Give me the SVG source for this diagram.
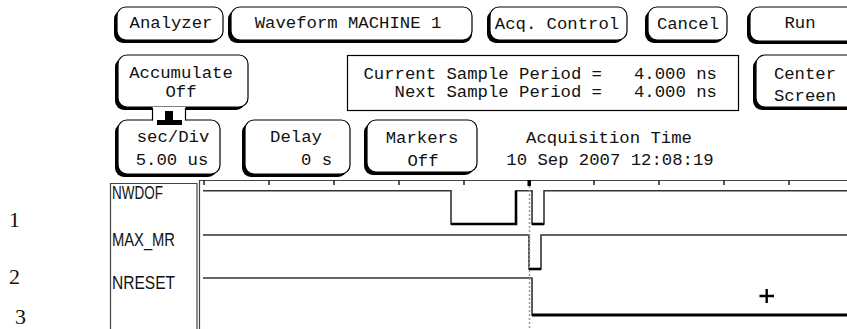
<svg xmlns="http://www.w3.org/2000/svg" width="847" height="329" viewBox="0 0 847 329">
  <style>
    .sh { fill: #000; }
    .face { fill: #fff; stroke: #000; stroke-width: 1.2; }
    .t { font-family: "Liberation Mono", "DejaVu Sans Mono", monospace; font-size: 17.3px; fill: #111; }
    .m { text-anchor: middle; }
    .e { text-anchor: end; }
    .lbl { font-family: "Liberation Sans", Arial, sans-serif; font-size: 18px; fill: #111; }
    .num { font-family: "Liberation Serif", "Times New Roman", serif; font-size: 22px; fill: #111; }
    .frame { fill: none; stroke: #444; stroke-width: 1.2; }
    .tick { stroke: #222; stroke-width: 1.5; }
    .hi { fill: none; stroke: #333; stroke-width: 1.6; }
    .lo { fill: none; stroke: #000; stroke-width: 2.6; }
    .cursor { stroke: #999; stroke-width: 1.5; stroke-dasharray: 2 2; }
  </style>
  <rect width="847" height="329" fill="#fff"/>

  <!-- top menu row -->
  <g id="btn-analyzer">
    <rect class="sh" x="114" y="10" width="106" height="33" rx="9"/>
    <rect class="face" x="117" y="7" width="106" height="33" rx="9"/>
    <text class="t m" x="171" y="28">Analyzer</text>
  </g>
  <g id="btn-waveform">
    <rect class="sh" x="228" y="10" width="244" height="33" rx="9"/>
    <rect class="face" x="231" y="7" width="241" height="33" rx="9"/>
    <text class="t m" x="348" y="28">Waveform MACHINE 1</text>
  </g>
  <g id="btn-acq">
    <rect class="sh" x="487" y="10" width="137" height="33" rx="9"/>
    <rect class="face" x="490" y="7" width="137" height="33" rx="9"/>
    <text class="t m" x="557" y="29">Acq. Control</text>
  </g>
  <g id="btn-cancel">
    <rect class="sh" x="645" y="10" width="79" height="33" rx="9"/>
    <rect class="face" x="648" y="7" width="79" height="33" rx="9"/>
    <text class="t m" x="688" y="29">Cancel</text>
  </g>
  <g id="btn-run">
    <rect class="sh" x="747" y="10" width="120" height="34" rx="9"/>
    <rect class="face" x="750" y="7" width="120" height="34" rx="9"/>
    <text class="t m" x="800" y="28">Run</text>
  </g>

  <!-- second row -->
  <g id="btn-accumulate">
    <rect class="sh" x="115" y="58" width="130" height="52" rx="9"/>
    <rect class="face" x="118" y="55" width="130" height="52" rx="9"/>
    <text class="t m" x="181" y="78">Accumulate</text>
    <text class="t m" x="181" y="97">Off</text>
  </g>
  <g id="sample-period">
    <rect class="face" x="347.5" y="55.5" width="391" height="55"/>
    <text class="t e" x="602" y="79">Current Sample Period =</text>
    <text class="t" x="634" y="79">4.000 ns</text>
    <text class="t e" x="602" y="97">Next Sample Period =</text>
    <text class="t" x="634" y="97">4.000 ns</text>
  </g>
  <g id="btn-center">
    <rect class="sh" x="753" y="58" width="110" height="52" rx="9"/>
    <rect class="face" x="756" y="55" width="110" height="52" rx="9"/>
    <text class="t m" x="805" y="79">Center</text>
    <text class="t m" x="805" y="101">Screen</text>
  </g>

  <!-- third row -->
  <g id="btn-secdiv">
    <rect class="sh" x="115" y="123" width="102" height="54" rx="9"/>
    <rect class="face" x="118" y="120" width="102" height="54" rx="9"/>
    <text class="t m" x="173" y="142">sec/Div</text>
    <text class="t m" x="172" y="165">5.00 us</text>
  </g>
  <g id="accumulate-link">
    <rect x="152.5" y="107" width="33" height="14" fill="#fff"/>
    <line x1="152.5" y1="108" x2="152.5" y2="120.5" stroke="#000" stroke-width="1.2"/>
    <line x1="185.5" y1="108" x2="185.5" y2="120.5" stroke="#000" stroke-width="1.2"/>
    <rect x="165" y="111" width="8" height="10" fill="#000"/>
    <rect x="157" y="120" width="25" height="5" fill="#000"/>
  </g>
  <g id="btn-delay">
    <rect class="sh" x="242" y="123" width="105" height="54" rx="9"/>
    <rect class="face" x="245" y="120" width="105" height="54" rx="9"/>
    <text class="t m" x="296" y="142">Delay</text>
    <text class="t" x="301" y="165">0  s</text>
  </g>
  <g id="btn-markers">
    <rect class="sh" x="364" y="123" width="110" height="52" rx="9"/>
    <rect class="face" x="367" y="120" width="110" height="52" rx="9"/>
    <text class="t m" x="422" y="143">Markers</text>
    <text class="t m" x="423" y="166">Off</text>
  </g>
  <g id="acq-time">
    <text class="t m" x="609" y="143">Acquisition Time</text>
    <text class="t m" x="610" y="165">10 Sep 2007 12:08:19</text>
  </g>

  <!-- channel numbers -->
  <g id="channel-numbers">
    <text class="num" x="9" y="227">1</text>
    <text class="num" x="9" y="284">2</text>
    <text class="num" x="15" y="324">3</text>
  </g>

  <!-- label column -->
  <g id="labels">
    <path class="frame" d="M110.5,329 V183.5 H197 V329"/>
    <text class="lbl" x="112" y="199" textLength="51" lengthAdjust="spacingAndGlyphs">NWDOF</text>
    <text class="lbl" x="112" y="246" textLength="63" lengthAdjust="spacingAndGlyphs">MAX_MR</text>
    <text class="lbl" x="112" y="289" textLength="63" lengthAdjust="spacingAndGlyphs">NRESET</text>
  </g>

  <!-- waveform frame and time ticks -->
  <g id="timebase">
    <path class="frame" d="M199.5,329 V180.5 H847"/>
    <g class="tick">
      <line x1="204" y1="180" x2="204" y2="185"/>
      <line x1="269" y1="180" x2="269" y2="185"/>
      <line x1="334" y1="180" x2="334" y2="185"/>
      <line x1="399" y1="180" x2="399" y2="185"/>
      <line x1="464" y1="180" x2="464" y2="185"/>
      <line x1="594" y1="180" x2="594" y2="185"/>
      <line x1="659" y1="180" x2="659" y2="185"/>
      <line x1="724" y1="180" x2="724" y2="185"/>
      <line x1="789" y1="180" x2="789" y2="185"/>
    </g>
    <rect x="527.5" y="180" width="3.5" height="6" fill="#000"/>
  </g>

  <!-- signal traces -->
  <g id="traces">
    <g id="wave-nwdof">
      <path class="hi" d="M203,190.7 H451 V224 H516 V190.7 H532 V224 H544 V190.7 H847"/>
      <path class="lo" d="M451,224 H516 V190.7"/>
      <path class="lo" d="M532,224 H544"/>
    </g>
    <g id="wave-max-mr">
      <path class="hi" d="M203,235 H529 V269 H541 V235 H847"/>
      <path class="lo" d="M529,269 H541"/>
    </g>
    <g id="wave-nreset">
      <path class="hi" d="M203,278 H532 V315 H847"/>
      <path class="lo" d="M532,315 H847" style="stroke-width:3"/>
    </g>
    <line class="cursor" x1="529.5" y1="186" x2="529.5" y2="329"/>
    <path d="M759.5,296 H774 M766.7,289 V303" stroke="#000" stroke-width="2.4" fill="none"/>
  </g>
</svg>
